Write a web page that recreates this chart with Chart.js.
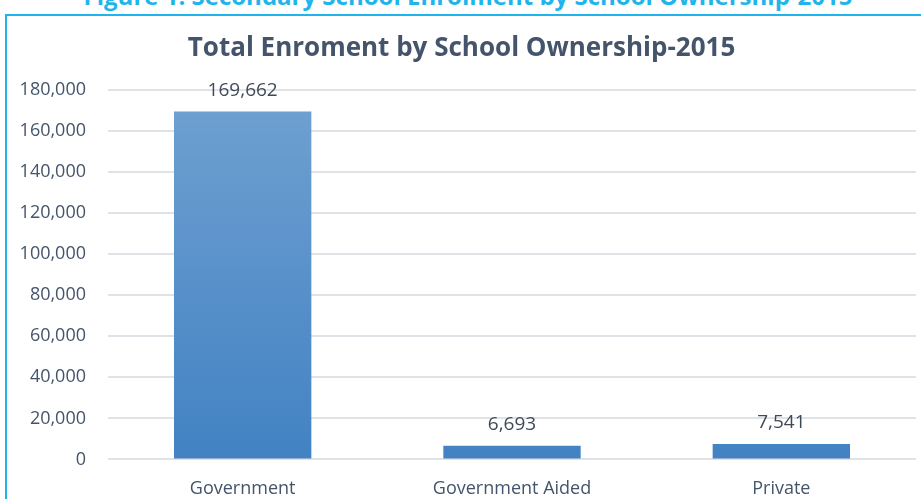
<!DOCTYPE html>
<html>
<head>
    <title>Total Enroment by School Ownership-2015</title>
    <script src="https://cdn.jsdelivr.net/npm/chart.js"></script>
    <style>
        body { margin: 0; overflow: hidden; background: #fff; font-family: "Open Sans", sans-serif; }
        .caption { position: absolute; left: 0; width: 936px; top: -16px; line-height: 24px; text-align: center;
                   color: #1fb5ec; font-weight: bold; font-size: 24px; white-space: nowrap; }
        .box { position: absolute; left: 5px; top: 14px; width: 930px; height: 500px;
               border: 2px solid #1fb5ec; box-sizing: border-box; }
        .chart-container { position: absolute; left: 0; top: 0; width: 926px; height: 495px; }
    </style>
</head>
<body>
    <div class="caption">Figure 1: Secondary School Enrolment by School Ownership-2015</div>
    <div class="box">
        <div class="chart-container"><canvas id="chart"></canvas></div>
    </div>

    <script>
        // 数据
        var categories = ['Government', 'Government Aided', 'Private'];
        var enrolment = [169662, 6693, 7541];
        var yTicks = [0, 20000, 40000, 60000, 80000, 100000, 120000, 140000, 160000, 180000];

        // 柱子上方的数值标签
        var valueLabels = {
            id: 'valueLabels',
            afterDatasetsDraw: function(chart) {
                var ctx = chart.ctx;
                var meta = chart.getDatasetMeta(0);
                ctx.save();
                ctx.font = '19px "Open Sans", sans-serif';
                ctx.fillStyle = '#404a57';
                ctx.textAlign = 'center';
                ctx.textBaseline = 'middle';
                meta.data.forEach(function(bar, i) {
                    ctx.fillText(enrolment[i].toLocaleString('en-US'), bar.x, bar.y - 21);
                });
                ctx.restore();
            }
        };

        var ctx = document.getElementById('chart').getContext('2d');
        new Chart(ctx, {
            type: 'bar',
            data: {
                labels: categories,
                datasets: [{
                    data: enrolment,
                    backgroundColor: function(c) {
                        var area = c.chart.chartArea;
                        if (!area) return '#5b93cc';
                        var g = c.chart.ctx.createLinearGradient(0, area.top, 0, area.bottom);
                        g.addColorStop(0, '#70a1d1');
                        g.addColorStop(1, '#4282c3');
                        return g;
                    },
                    borderWidth: 0,
                    categoryPercentage: 1,
                    barPercentage: 0.51
                }]
            },
            options: {
                responsive: true,
                maintainAspectRatio: false,
                animation: false,
                layout: { padding: { left: 0, right: 17, top: 0, bottom: 0 } },
                plugins: {
                    legend: { display: false },
                    tooltip: { enabled: false },
                    title: {
                        display: true,
                        text: 'Total Enroment by School Ownership-2015',
                        color: '#44546a',
                        font: { family: 'Open Sans', size: 26, weight: 'bold' },
                        padding: { top: 17, bottom: 26 }
                    }
                },
                scales: {
                    x: {
                        grid: { display: false },
                        border: { display: false },
                        ticks: { color: '#44546a', font: { family: 'Open Sans', size: 18 }, padding: 11 }
                    },
                    y: {
                        min: 0,
                        max: 180000,
                        afterBuildTicks: function(axis) {
                            axis.ticks = yTicks.map(function(v) { return { value: v }; });
                        },
                        afterFit: function(axis) { axis.width = 101; },
                        grid: { color: '#dfe3e8', lineWidth: 2, drawTicks: false },
                        border: { display: false },
                        ticks: {
                            color: '#44546a',
                            font: { family: 'Open Sans', size: 18 },
                            padding: 22,
                            callback: function(v) { return v.toLocaleString('en-US'); }
                        }
                    }
                }
            },
            plugins: [valueLabels]
        });
    </script>
</body>
</html>
